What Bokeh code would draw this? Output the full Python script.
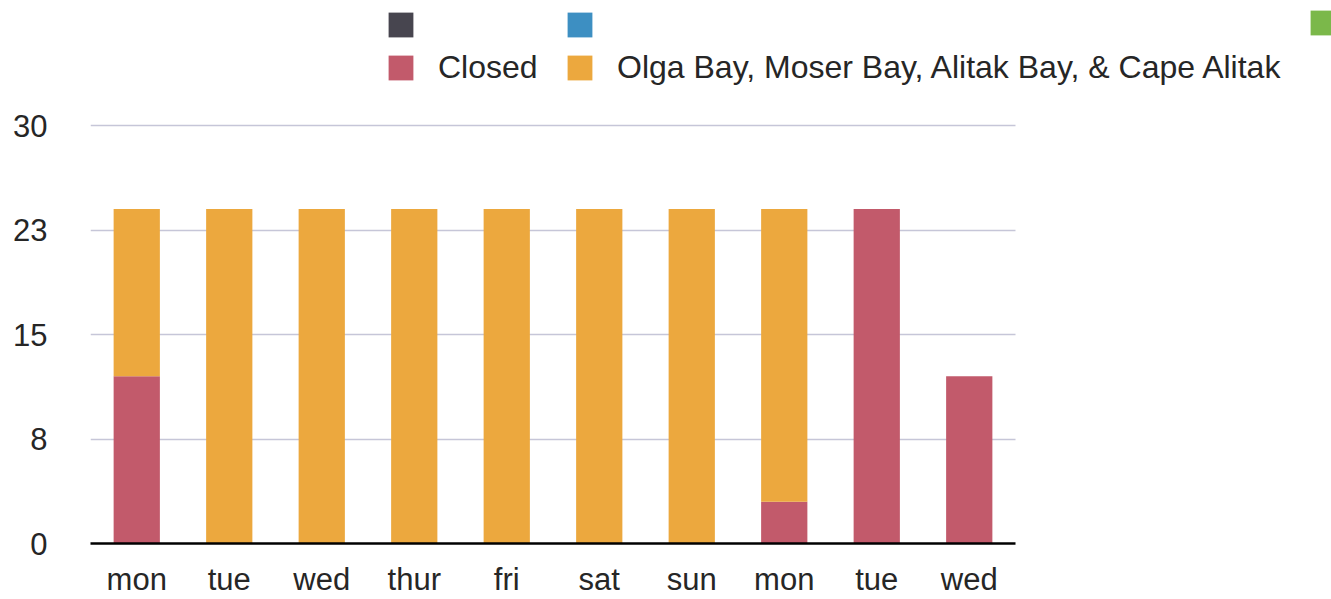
from bokeh.plotting import figure
from bokeh.models import (ColumnDataSource, Range1d, FixedTicker, Legend, LegendItem, Grid)
from bokeh.embed import file_html
from bokeh.resources import INLINE

days = ["mon", "tue", "wed", "thur", "fri", "sat", "sun", "mon", "tue", "wed"]
series_a = [0, 0, 0, 0, 0, 0, 0, 0, 0, 0]
series_b = [0, 0, 0, 0, 0, 0, 0, 0, 0, 0]
series_c = [0, 0, 0, 0, 0, 0, 0, 0, 0, 0]
closed = [12, 0, 0, 0, 0, 0, 0, 3, 24, 12]
olga = [12, 24, 24, 24, 24, 24, 24, 21, 0, 0]
y_ticks = [0, 7.5, 15, 22.5, 30]
y_tick_labels = ["0", "8", "15", "23", "30"]
series_keys = ["a", "b", "c", "closed", "olga"]
series_names = ["", "", "", "Closed", "Olga Bay, Moser Bay, Alitak Bay, & Cape Alitak"]
series_colors = ["#47454f", "#3d8fc2", "#7bb84a", "#c25a6b", "#eca83e"]

FONT = "Liberation Sans"
TXT = "#262626"
W, H = 1331, 599

# layout (pixels)
FRAME_L, FRAME_B_BORDER = 90, 56
PLOT_R = 1015          # right end of the category area
PX_PER_CAT = (PLOT_R - FRAME_L) / len(days)
Y_TOP_PX = 125         # pixel of y = 30
frame_h = H - FRAME_B_BORDER
px_per_y = (frame_h - Y_TOP_PX) / y_ticks[-1]

x = list(range(len(days)))
x0, x1 = x[0] - 0.5, x[-1] + 0.5
x_end = x1 + (W - PLOT_R) / PX_PER_CAT
y_end = frame_h / px_per_y

src = ColumnDataSource(dict(x=x, a=series_a, b=series_b, c=series_c,
                            closed=closed, olga=olga))

p = figure(width=W, height=H, output_backend="svg", toolbar_location=None,
           x_range=Range1d(x0, x_end), y_range=Range1d(0, y_end),
           min_border_left=FRAME_L, min_border_right=0, min_border_top=0,
           min_border_bottom=FRAME_B_BORDER)
p.outline_line_color = None
p.background_fill_color = "white"
p.border_fill_color = "white"

stack = p.vbar_stack(series_keys, x="x", width=0.5, source=src,
                     color=series_colors, line_color=None)

# grid
p.xgrid.grid_line_color = None
grid_ok = "cross_bounds" in Grid.properties()
if grid_ok:
    p.ygrid.ticker = FixedTicker(ticks=y_ticks[1:])
    p.ygrid.cross_bounds = (x0, x1)
    p.ygrid.grid_line_color = "#c6c6d8"
    p.ygrid.grid_line_width = 1.5
else:
    p.ygrid.grid_line_color = None
    n = len(y_ticks) - 1
    p.segment(x0=[x0] * n, x1=[x1] * n, y0=y_ticks[1:], y1=y_ticks[1:],
              line_color="#c6c6d8", line_width=1.5, level="underlay")

# y axis
p.yaxis.ticker = FixedTicker(ticks=y_ticks)
p.yaxis.major_label_overrides = {t: l for t, l in zip(y_ticks, y_tick_labels)}
p.yaxis.axis_line_color = None
p.yaxis.major_tick_line_color = None
p.yaxis.minor_tick_line_color = None
p.yaxis.major_tick_out = 0
p.yaxis.major_tick_in = 0
p.yaxis.major_label_standoff = 43
p.yaxis.major_label_text_font = FONT
p.yaxis.major_label_text_font_size = "31px"
p.yaxis.major_label_text_color = TXT

# x axis
p.xaxis.ticker = FixedTicker(ticks=x)
p.xaxis.bounds = (x0, x1)
p.xaxis.major_label_overrides = {i: d for i, d in zip(x, days)}
p.xaxis.axis_line_color = "black"
p.xaxis.axis_line_width = 2.5
p.xaxis.major_tick_line_color = None
p.xaxis.minor_tick_line_color = None
p.xaxis.major_tick_out = 0
p.xaxis.major_tick_in = 0
p.xaxis.major_label_standoff = 18
p.xaxis.major_label_text_font = FONT
p.xaxis.major_label_text_font_size = "31px"
p.xaxis.major_label_text_line_height = 1.0
p.xaxis.major_label_text_color = TXT

def make_legend(idx, loc):
    items = [LegendItem(label=series_names[i], renderers=[stack[i]]) for i in idx]
    lg = Legend(items=items, location=loc, orientation="vertical",
                glyph_width=31, glyph_height=31, label_standoff=22,
                label_height=31, spacing=9, padding=0, margin=0,
                border_line_color=None, background_fill_alpha=0,
                label_text_font=FONT, label_text_font_size="32px",
                label_text_color=TXT, label_text_baseline="middle")
    p.add_layout(lg, "center")

make_legend([0, 3], (295, 457))
make_legend([1, 4], (474, 457))
make_legend([2], (1217, 505))

open("out.html", "w").write(file_html(p, INLINE))
